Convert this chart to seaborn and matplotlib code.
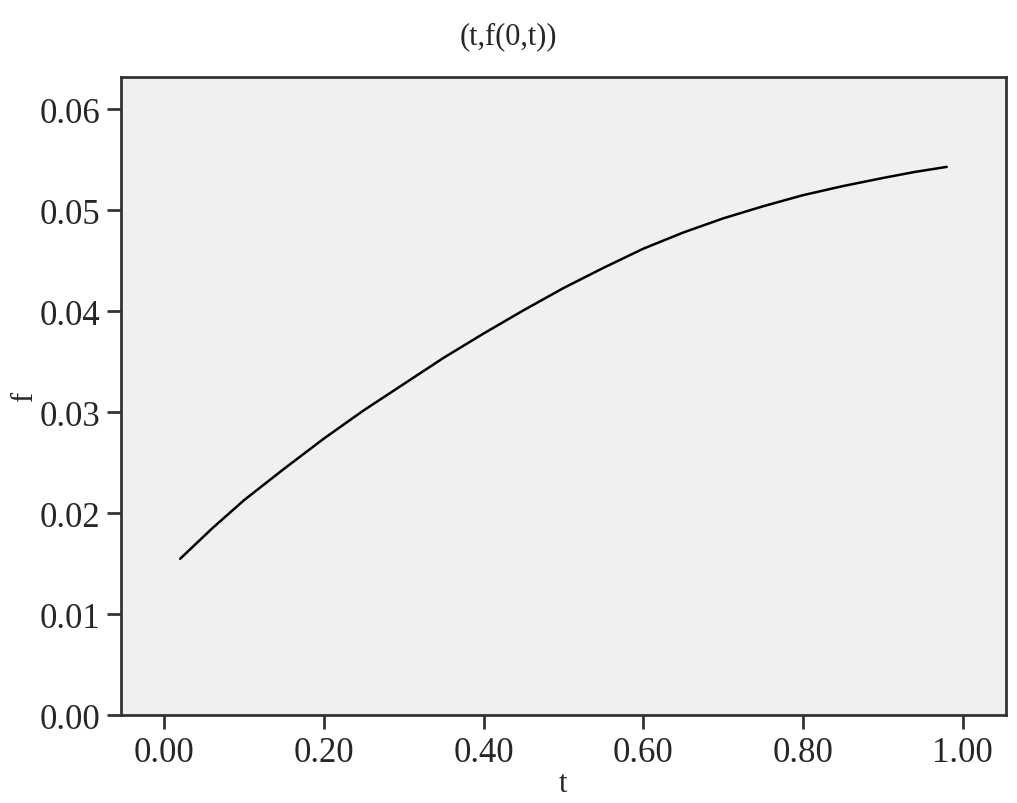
import pandas as pd
import matplotlib
matplotlib.use("Agg")
import matplotlib.pyplot as plt
import seaborn as sns

t_vals = [0.02, 0.06, 0.10, 0.15, 0.20, 0.25, 0.30, 0.35, 0.40, 0.45, 0.50,
          0.55, 0.60, 0.65, 0.70, 0.75, 0.80, 0.85, 0.90, 0.94, 0.98]
f_vals = [0.0155, 0.0185, 0.0213, 0.0244, 0.0274, 0.0302, 0.0328, 0.0354, 0.0378, 0.0401, 0.0423,
          0.0443, 0.0462, 0.0478, 0.0492, 0.0504, 0.0515, 0.0524, 0.0532, 0.0538, 0.0543]
x_ticks = [0.0, 0.2, 0.4, 0.6, 0.8, 1.0]
y_ticks = [0.00, 0.01, 0.02, 0.03, 0.04, 0.05, 0.06]

df = pd.DataFrame({"t": t_vals, "f": f_vals})

sns.set_style("ticks")
plt.rcParams["font.family"] = ["Liberation Serif", "DejaVu Serif"]

fig = plt.figure(figsize=(10.17, 8.04), dpi=100)
ax = fig.add_axes([0.119, 0.109, 0.870, 0.794])
ax.set_facecolor("#f0f0f0")

sns.lineplot(data=df, x="t", y="f", color="black", linewidth=1.8, ax=ax)

ax.set_xlim(-0.054, 1.054)
ax.set_ylim(0, 0.0632)
ax.set_xticks(x_ticks)
ax.set_xticklabels([f"{v:.2f}" for v in x_ticks])
ax.set_yticks(y_ticks)
ax.set_yticklabels([f"{v:.2f}" for v in y_ticks])
ax.tick_params(labelsize=25, length=10, width=2, color="#333333", pad=5)

for s in ax.spines.values():
    s.set_visible(True)
    s.set_linewidth(2)
    s.set_color("#333333")

ax.set_xlabel("t", fontsize=22, labelpad=0)
ax.set_ylabel("f", fontsize=22, labelpad=0)
fig.suptitle("(t,f(0,t))", fontsize=22, y=0.972)

plt.savefig("out.png", dpi=100)
plt.close()
